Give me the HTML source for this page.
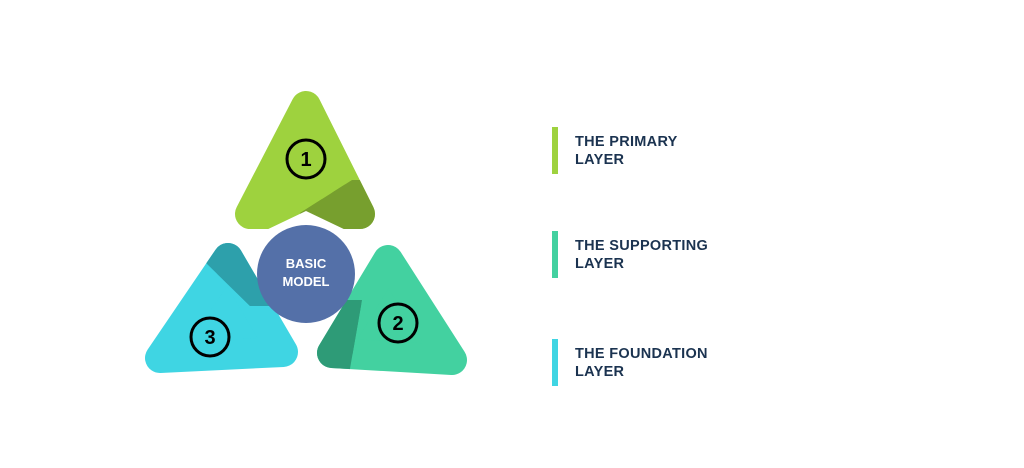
<!DOCTYPE html>
<html><head><style>
body{margin:0;width:1024px;height:468px;background:#fff;overflow:hidden;position:relative;font-family:"Liberation Sans",sans-serif}
.bar{position:absolute;left:552px;width:6px;height:47px}
.t{position:absolute;left:575px;font-weight:bold;font-size:14.5px;line-height:18px;color:#1b3350;letter-spacing:0.3px}
</style></head><body>
<svg width="1024" height="468" style="position:absolute;left:0;top:0">
<defs>
<clipPath id="c1"><polygon points="300,213 352,180 420,180 420,260 300,260"/></clipPath>
<clipPath id="c2"><polygon points="362,300 348,380 280,380 280,300"/></clipPath>
<clipPath id="c3"><polygon points="195,240 205,262 250,306 270,306 270,230 195,230"/></clipPath>
</defs>
<g stroke-linejoin="round" stroke-width="30">
<polygon points="306,106 250,214 360,214" fill="#9ed23e" stroke="#9ed23e"/>
<polygon points="306,106 250,214 360,214" fill="#779f2e" stroke="#779f2e" clip-path="url(#c1)"/>
<polygon points="388,260 452,360 332,353" fill="#43d1a0" stroke="#43d1a0"/>
<polygon points="388,260 452,360 332,353" fill="#2e9b77" stroke="#2e9b77" clip-path="url(#c2)"/>
<polygon points="228,258 160,358 283,352" fill="#3fd5e3" stroke="#3fd5e3"/>
<polygon points="228,258 160,358 283,352" fill="#2da0ab" stroke="#2da0ab" clip-path="url(#c3)"/>
</g>
<polygon points="262,232 306,211 350,232" fill="#fff"/>
<circle cx="306" cy="274" r="49" fill="#5470a8"/>
<text x="306" y="268" text-anchor="middle" fill="#fff" font-family="Liberation Sans" font-weight="bold" font-size="13">BASIC</text>
<text x="306" y="286" text-anchor="middle" fill="#fff" font-family="Liberation Sans" font-weight="bold" font-size="13">MODEL</text>
<g fill="none" stroke="#000" stroke-width="3">
<circle cx="306" cy="159" r="19"/><circle cx="398" cy="323" r="19"/><circle cx="210" cy="337" r="19"/>
</g>
<g font-family="Liberation Sans" font-weight="bold" font-size="20" text-anchor="middle" fill="#000">
<text x="306" y="166">1</text><text x="398" y="330">2</text><text x="210" y="344">3</text>
</g>
</svg>
<div class="bar" style="top:127px;background:#9ed23e"></div>
<div class="t" style="top:133px">THE PRIMARY<br>LAYER</div>
<div class="bar" style="top:231px;background:#43d1a0"></div>
<div class="t" style="top:237px">THE SUPPORTING<br>LAYER</div>
<div class="bar" style="top:339px;background:#3fd5e3"></div>
<div class="t" style="top:345px">THE FOUNDATION<br>LAYER</div>
</body></html>
